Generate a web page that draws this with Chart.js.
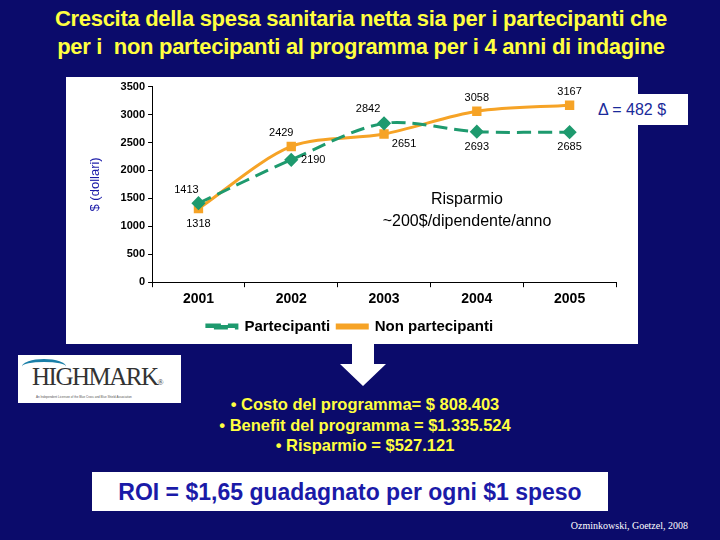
<!DOCTYPE html>
<html><head><meta charset="utf-8">
<script src="https://cdn.jsdelivr.net/npm/chart.js@4"></script>
<style>
body{margin:0;width:720px;height:540px;background:#0b0b6b;position:relative;overflow:hidden;font-family:"Liberation Sans",Arial,sans-serif}
.t{position:absolute;color:#ffff40;font-weight:bold;text-align:center}
#panel{position:absolute;left:66px;top:77px;width:572px;height:267px;background:#fff}
</style></head><body>
<div class="t" style="left:0;top:5px;width:722px;font-size:22px;line-height:28px;letter-spacing:-0.3px">Crescita della spesa sanitaria netta sia per i partecipanti che<br>per i&nbsp; non partecipanti al programma per i 4 anni di indagine</div>
<div id="panel"><canvas id="c" width="572" height="267"></canvas></div>
<div style="position:absolute;left:576px;top:94px;width:112px;height:31px;background:#fff;color:#1a2a9a;font-size:16px;line-height:31px;text-align:center">Δ = 482 $</div>
<div style="position:absolute;left:18px;top:355px;width:163px;height:48px;background:#fff;overflow:hidden">
 <div style="position:absolute;left:14px;top:8px;font-family:'Liberation Serif',serif;font-size:25px;color:#333;letter-spacing:-1.5px">HIGHMARK<span style="font-size:8px">®</span></div>
 <div style="position:absolute;left:4px;top:4px;width:44px;height:12px;border-top:3px solid #1a7fa8;border-radius:50% 50% 0 0"></div>
 <div style="position:absolute;left:18px;top:40px;font-size:3px;color:#555">An Independent Licensee of the Blue Cross and Blue Shield Association</div>
</div>
<svg style="position:absolute;left:340px;top:344px" width="46" height="42"><polygon points="12,0 34,0 34,20 46,20 23,42 0,20 12,20" fill="#fff"/></svg>
<div class="t" style="left:0;top:394px;width:730px;font-size:16.5px;line-height:20.5px">• Costo del programma= $ 808.403<br>• Benefit del programma = $1.335.524<br>• Risparmio = $527.121</div>
<div style="position:absolute;left:92px;top:472px;width:516px;height:39px;background:#fff;color:#1a1aa8;font-weight:bold;font-size:23px;line-height:41px;text-align:center">ROI = $1,65 guadagnato per ogni $1 speso</div>
<div style="position:absolute;right:32px;top:520px;color:#fff;font-family:'Liberation Serif',serif;font-size:10px">Ozminkowski, Goetzel, 2008</div>
<script>
const years = ['2001', '2002', '2003', '2004', '2005'];
const partecipanti = [1413, 2190, 2842, 2693, 2685];
const nonPartecipanti = [1318, 2429, 2651, 3058, 3167];
const yTicks = [0, 500, 1000, 1500, 2000, 2500, 3000, 3500];
// label offsets (dx, dy) per point
const offP = [[-12,-13],[22,0],[-16,-14],[0,15],[0,15]];
const offN = [[0,15],[-10,-13],[20,10],[0,-13],[0,-13]];

const labels = {
  id: 'labels',
  afterDatasetsDraw(chart) {
    const ctx = chart.ctx;
    ctx.save();
    ctx.font = '11px "Liberation Sans", Arial';
    ctx.fillStyle = '#000';
    ctx.textAlign = 'center';
    ctx.textBaseline = 'middle';
    [offP, offN].forEach((offs, di) => {
      chart.getDatasetMeta(di).data.forEach((pt, i) => {
        ctx.fillText(chart.data.datasets[di].data[i], pt.x + offs[i][0], pt.y + offs[i][1]);
      });
    });
    ctx.font = '16px "Liberation Sans", Arial';
    ctx.fillText('Risparmio', 401, 123);
    ctx.fillText('~200$/dipendente/anno', 401, 145);
    ctx.restore();
  }
};

new Chart(document.getElementById('c'), {
  type: 'line',
  data: {
    labels: years,
    datasets: [{
      label: 'Partecipanti',
      data: partecipanti,
      borderColor: '#1e9a6e',
      backgroundColor: '#1e9a6e',
      borderDash: [14, 7],
      borderWidth: 3,
      pointStyle: 'rectRot',
      pointRadius: 5,
      tension: 0.3
    }, {
      label: 'Non partecipanti',
      data: nonPartecipanti,
      borderColor: '#f6a326',
      backgroundColor: '#f6a326',
      borderWidth: 3,
      pointStyle: 'rect',
      pointRadius: 4.5,
      tension: 0.3
    }]
  },
  options: {
    responsive: false,
    animation: false,
    layout: { padding: { top: 2, right: 22, left: 18, bottom: 0 } },
    plugins: {
      tooltip: { enabled: false },
      legend: {
        position: 'bottom',
        labels: {
          color: '#000', boxWidth: 30, boxHeight: 3, padding: 7,
          font: { size: 15, weight: 'bold', family: '"Liberation Sans", Arial' }
        }
      }
    },
    scales: {
      x: {
        offset: true,
        grid: { display: true, drawOnChartArea: false, color: '#000', offset: true, tickLength: 5 },
        border: { color: '#000' },
        ticks: { color: '#000', font: { size: 14, weight: 'bold', family: '"Liberation Sans", Arial' }, padding: 4 }
      },
      y: {
        min: 0, max: 3500,
        afterBuildTicks: s => { s.ticks = yTicks.map(v => ({ value: v })); },
        grid: { display: true, drawOnChartArea: false, color: '#000', tickLength: 4 },
        border: { color: '#000' },
        title: { display: true, text: '$ (dollari)', color: '#1a1aa8', font: { size: 13, family: '"Liberation Sans", Arial' }, padding: { bottom: 14 } },
        ticks: { color: '#000', font: { size: 11, weight: 'bold', family: '"Liberation Sans", Arial' }, callback: v => String(v) }
      }
    }
  },
  plugins: [labels]
});
</script>
</body></html>
